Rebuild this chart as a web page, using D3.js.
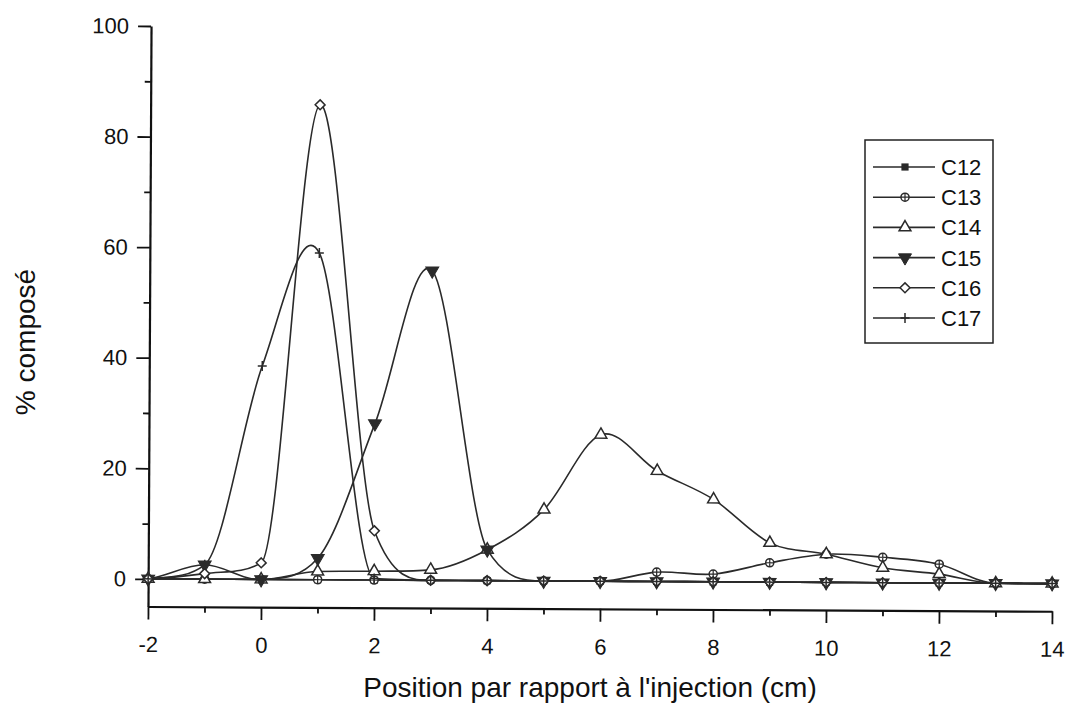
<!DOCTYPE html>
<html>
<head>
<meta charset="utf-8">
<script src="https://cdn.jsdelivr.net/npm/d3@7"></script>
<style>
  body { margin: 0; background: #fff; }
  svg { display: block; font-family: Arial, "Liberation Sans", sans-serif; }
</style>
</head>
<body>
<div id="chart"></div>
<script>
// Positions (cm) et % composé par série
const positions = [-2, -1, 0, 1, 2, 3, 4, 5, 6, 7, 8, 9, 10, 11, 12, 13, 14];
const c12 = [0, 0, 0, 0, 0, 0, 0, 0, 0, 0, 0, 0, 0, 0, 0, 0, 0];
const c13 = [0, 0, 0, 0, 0, 0, 0, 0, 0, 1.7, 1.4, 3.5, 5.1, 4.6, 3.4, 0, 0];
const c14 = [0, 0, 0, 1.5, 1.6, 1.9, 5.6, 12.9, 26.5, 20.0, 14.9, 7.1, 5.1, 2.7, 1.6, 0, 0];
const c15 = [0, 2.6, 0, 3.9, 28.3, 56, 5.6, 0, 0, 0, 0, 0, 0, 0, 0, 0, 0];
const c16 = [0, 1.0, 3.0, 85.9, 8.9, 0, 0, 0, 0, 0, 0, 0, 0, 0, 0, 0, 0];
const c17 = [0, 2.6, 38.6, 59.1, 0.3, 0, 0, 0, 0, 0, 0, 0, 0, 0, 0, 0, 0];
const seriesNames = ["C12", "C13", "C14", "C15", "C16", "C17"];
const xTicks = [-2, 0, 2, 4, 6, 8, 10, 12, 14];
const xMinor = [-1, 1, 3, 5, 7, 9, 11, 13];
const yTicks = [0, 20, 40, 60, 80, 100];
const yMinor = [10, 30, 50, 70, 90];

const shapes = ["square", "circle", "triangle", "down", "diamond", "plus"];
const series = [c12, c13, c14, c15, c16, c17].map((v, i) => ({ name: seriesNames[i], values: v, shape: shapes[i] }));

const width = 1067, height = 703;
const ink = "#2a2a2a";

// Spline type Catmull-Rom, sans rebond sous la ligne de base (tangentes bornées hors extrema)
function curveSpline(context) {
  let pts;
  return {
    areaStart() {}, areaEnd() {},
    lineStart() { pts = []; },
    point(px, py) { pts.push([+px, +py]); },
    lineEnd() {
      const n = pts.length;
      if (!n) return;
      const d = [];
      for (let i = 0; i < n - 1; i++) d.push((pts[i + 1][1] - pts[i][1]) / (pts[i + 1][0] - pts[i][0]));
      const m = pts.map((p, i) => {
        if (i === 0) return d[0] / 2;
        if (i === n - 1) return d[n - 2] / 2;
        const a = d[i - 1], b = d[i];
        let t = (a + b) / 2;
        if (a * b === 0) t = 0;
        else if (a * b > 0) {
          const lim = 3 * Math.min(Math.abs(a), Math.abs(b));
          if (Math.abs(t) > lim) t = Math.sign(t) * lim;
        }
        return t;
      });
      context.moveTo(pts[0][0], pts[0][1]);
      for (let i = 0; i < n - 1; i++) {
        const h = (pts[i + 1][0] - pts[i][0]) / 3;
        context.bezierCurveTo(
          pts[i][0] + h, pts[i][1] + h * m[i],
          pts[i + 1][0] - h, pts[i + 1][1] - h * m[i + 1],
          pts[i + 1][0], pts[i + 1][1]);
      }
    }
  };
}

const svg = d3.select("#chart").append("svg")
  .attr("width", width)
  .attr("height", height);

const x = d3.scaleLinear().domain([-2, 14]).range([148, 1052]);
const y = d3.scaleLinear().domain([-5, 100]).range([606.5, 26]);

// le scan est très légèrement incliné
const g = svg.append("g").attr("transform", "rotate(0.3,148,606.5)");

// Axes
g.append("g")
  .attr("transform", "translate(0," + y(-5) + ")")
  .call(d3.axisBottom(x).tickValues(xTicks).tickSize(13).tickPadding(17).tickSizeOuter(0).tickFormat(d => String(d)));
g.append("g")
  .attr("transform", "translate(0," + y(-5) + ")")
  .call(d3.axisBottom(x).tickValues(xMinor).tickSize(6).tickFormat(""))
  .select(".domain").remove();

g.append("g")
  .attr("transform", "translate(" + x(-2) + ",0)")
  .call(d3.axisLeft(y).tickValues(yTicks).tickSize(13).tickPadding(9).tickSizeOuter(0).tickFormat(d => String(d)));
g.append("g")
  .attr("transform", "translate(" + x(-2) + ",0)")
  .call(d3.axisLeft(y).tickValues(yMinor).tickSize(6).tickFormat(""))
  .select(".domain").remove();

g.selectAll(".domain").attr("stroke", "#111").attr("stroke-width", 2.2);
g.selectAll(".tick line").attr("stroke", "#111").attr("stroke-width", 1.8);
g.selectAll(".tick text")
  .attr("fill", "#111")
  .style("font-size", "22px")
  .style("font-family", "Arial, 'Liberation Sans', sans-serif");

// Courbes
const line = d3.line()
  .x((d, i) => x(positions[i]))
  .y(d => y(d))
  .curve(curveSpline);

g.selectAll(".serie")
  .data(series)
  .enter().append("path")
    .attr("class", "serie")
    .attr("d", d => line(d.values))
    .attr("fill", "none")
    .attr("stroke", ink)
    .attr("stroke-width", 1.6);

// Symboles
function drawMarker(sel, shape, cx, cy, s) {
  const m = sel.append("g").attr("transform", "translate(" + cx + "," + cy + ")");
  if (shape === "square") {
    m.append("rect").attr("x", -s * 0.4).attr("y", -s * 0.4).attr("width", s * 0.8).attr("height", s * 0.8)
      .attr("fill", ink);
  } else if (shape === "circle") {
    m.append("circle").attr("r", s * 0.45).attr("fill", "#fff").attr("stroke", ink).attr("stroke-width", 1.5);
    m.append("path").attr("d", "M" + (-s * 0.45) + ",0H" + (s * 0.45) + "M0," + (-s * 0.45) + "V" + (s * 0.45))
      .attr("stroke", ink).attr("stroke-width", 1.2);
  } else if (shape === "triangle") {
    m.append("path").attr("d", d3.symbol(d3.symbolTriangle, s * s * 0.75)())
      .attr("fill", "#fff").attr("stroke", ink).attr("stroke-width", 1.5);
  } else if (shape === "down") {
    m.append("path").attr("d", d3.symbol(d3.symbolTriangle, s * s * 0.9)())
      .attr("transform", "rotate(180)")
      .attr("fill", ink).attr("stroke", ink).attr("stroke-width", 1);
  } else if (shape === "diamond") {
    const r = s * 0.55;
    m.append("path").attr("d", "M0," + (-r) + "L" + r + ",0L0," + r + "L" + (-r) + ",0Z")
      .attr("fill", "#fff").attr("stroke", ink).attr("stroke-width", 1.5);
  } else if (shape === "plus") {
    m.append("path").attr("d", "M" + (-s * 0.5) + ",0H" + (s * 0.5) + "M0," + (-s * 0.55) + "V" + (s * 0.55))
      .attr("stroke", ink).attr("stroke-width", 1.5);
  }
}

series.forEach(function(sr) {
  const layer = g.append("g").attr("class", "markers");
  sr.values.forEach(function(v, i) {
    drawMarker(layer, sr.shape, x(positions[i]), y(v), 9);
  });
});

// Légende
const legend = svg.append("g");
legend.append("rect")
  .attr("x", 865).attr("y", 140)
  .attr("width", 128).attr("height", 203)
  .attr("fill", "#fff").attr("stroke", "#222").attr("stroke-width", 1.5);

series.forEach(function(sr, i) {
  const ly = 167 + i * 30.2;
  legend.append("line")
    .attr("x1", 873).attr("x2", 935).attr("y1", ly).attr("y2", ly)
    .attr("stroke", ink).attr("stroke-width", 1.6);
  drawMarker(legend, sr.shape, 905, ly, 9);
  legend.append("text")
    .attr("x", 941).attr("y", ly).attr("dy", "0.36em")
    .attr("fill", "#111")
    .style("font-size", "22px")
    .text(sr.name);
});

// Titres des axes
svg.append("text")
  .attr("x", 590).attr("y", 697)
  .attr("text-anchor", "middle")
  .attr("fill", "#111")
  .style("font-size", "28px")
  .text("Position par rapport à l'injection (cm)");

svg.append("text")
  .attr("transform", "translate(35,342) rotate(-90)")
  .attr("text-anchor", "middle")
  .attr("fill", "#111")
  .style("font-size", "28px")
  .text("% composé");
</script>
</body>
</html>
